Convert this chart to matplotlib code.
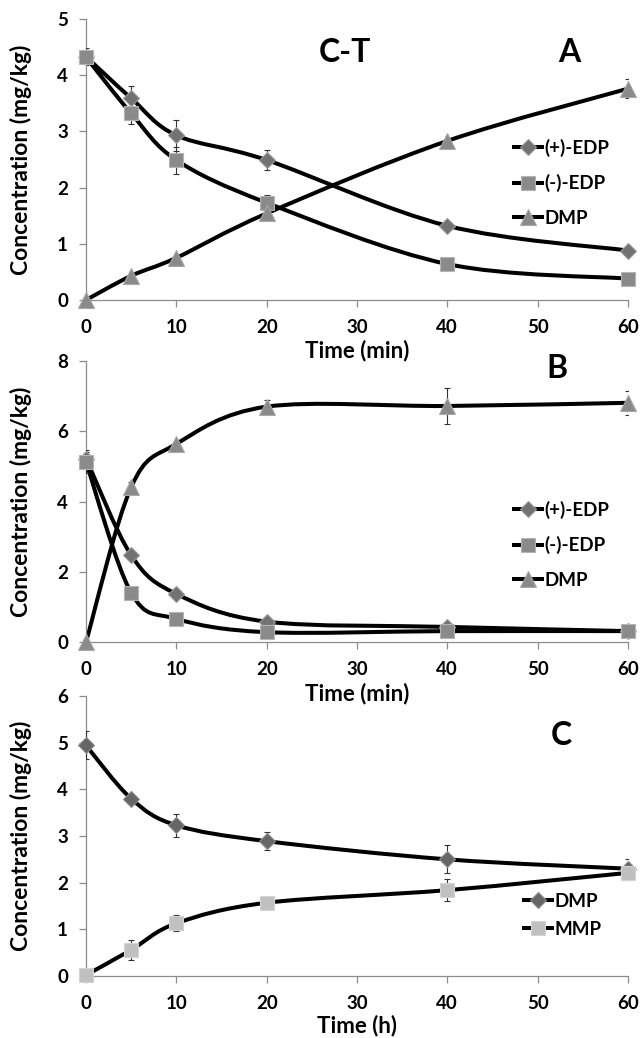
import numpy as np
import matplotlib
matplotlib.use("Agg")
import matplotlib.pyplot as plt
from matplotlib.path import Path
from matplotlib.patches import PathPatch
from matplotlib.lines import Line2D

plt.rcParams['font.family'] = ['Lato', 'DejaVu Sans']
plt.rcParams['font.weight'] = 'bold'

# sampling times
time = [0, 5, 10, 20, 40, 60]

# panel A (C-T, minutes)
a_plus = [4.33, 3.59, 2.93, 2.49, 1.32, 0.88]
a_plus_err = [0.15, 0.22, 0.28, 0.18, 0.05, 0.04]
a_minus = [4.32, 3.32, 2.49, 1.73, 0.64, 0.38]
a_minus_err = [0.12, 0.18, 0.24, 0.14, 0.04, 0.03]
a_dmp = [0.0, 0.43, 0.75, 1.54, 2.83, 3.76]
a_dmp_err = [0.0, 0.03, 0.03, 0.04, 0.04, 0.17]

# panel B (minutes)
b_plus = [5.22, 2.47, 1.37, 0.58, 0.43, 0.31]
b_plus_err = [0.26, 0.05, 0.05, 0.04, 0.04, 0.03]
b_minus = [5.12, 1.40, 0.66, 0.28, 0.31, 0.31]
b_minus_err = [0.30, 0.06, 0.05, 0.03, 0.04, 0.03]
b_dmp = [0.0, 4.41, 5.64, 6.70, 6.72, 6.81]
b_dmp_err = [0.0, 0.14, 0.06, 0.18, 0.52, 0.34]

# panel C (hours)
c_dmp = [4.94, 3.80, 3.23, 2.89, 2.50, 2.30]
c_dmp_err = [0.30, 0.05, 0.25, 0.20, 0.30, 0.20]
c_mmp = [0.02, 0.56, 1.13, 1.57, 1.84, 2.21]
c_mmp_err = [0.02, 0.21, 0.17, 0.05, 0.23, 0.15]

DIAMOND = dict(marker='D', ms=8.5, mfc='#727272', mec='#9a9a9a', mew=0.8)
SQUARE = dict(marker='s', ms=10, mfc='#8a8a8a', mec='#b4b4b4', mew=0.8)
TRIANGLE = dict(marker='^', ms=11, mfc='#8a8a8a', mec='#a8a8a8', mew=0.8)
DIAMOND_C = dict(marker='D', ms=8.5, mfc='#666666', mec='#8c8c8c', mew=0.8)
SQUARE_C = dict(marker='s', ms=10, mfc='#c0c0c0', mec='#d4d4d4', mew=0.8)

FS_TICK = 13.5
FS_LABEL = 16
FS_PANEL = 23


def smooth_path(x, y):
    # Excel style smoothed line: Catmull-Rom segments as cubic Bezier curves
    x = np.asarray(x, float)
    y = np.asarray(y, float)
    n = len(x)
    verts = [(x[0], y[0])]
    codes = [Path.MOVETO]
    for i in range(n - 1):
        i0 = max(i - 1, 0)
        i3 = min(i + 2, n - 1)
        c1 = (x[i] + (x[i + 1] - x[i0]) / 6, y[i] + (y[i + 1] - y[i0]) / 6)
        c2 = (x[i + 1] - (x[i3] - x[i]) / 6, y[i + 1] - (y[i3] - y[i]) / 6)
        verts += [c1, c2, (x[i + 1], y[i + 1])]
        codes += [Path.CURVE4] * 3
    return Path(verts, codes)


def draw_series(ax, y, err, style):
    ax.add_patch(PathPatch(smooth_path(time, y), fc='none', ec='black',
                           lw=2.9, zorder=2, capstyle='round'))
    ax.errorbar(time, y, yerr=err, fmt='none', ecolor='#333333',
                elinewidth=0.8, capsize=2.5, capthick=0.8, zorder=3)
    ax.plot(time, y, ls='none', zorder=4, clip_on=False, **style)
    return Line2D([], [], color='black', lw=2.9, **style)


def style_axes(ax, ymax, ystep, xlabel, xlabel_y):
    ax.set_facecolor('none')
    ax.set_xlim(0, 60)
    ax.set_ylim(0, ymax)
    ax.set_xticks([0, 10, 20, 30, 40, 50, 60])
    ax.set_yticks(np.arange(0, ymax + 0.01, ystep))
    for s in ['top', 'right']:
        ax.spines[s].set_visible(False)
    for s in ['left', 'bottom']:
        ax.spines[s].set_color('#8c8c8c')
        ax.spines[s].set_linewidth(0.9)
    ax.tick_params(axis='x', direction='out', length=5, width=0.9,
                   color='#8c8c8c', pad=9, labelsize=FS_TICK)
    ax.tick_params(axis='y', direction='out', length=5, width=0.9,
                   color='#8c8c8c', pad=8, labelsize=FS_TICK)
    for lab in ax.get_xticklabels() + ax.get_yticklabels():
        lab.set_fontweight('bold')
    ax.set_ylabel('Concentration (mg/kg)', fontsize=FS_LABEL + 0.5, fontweight='bold')
    ax.yaxis.set_label_coords(-0.100, 0.5)
    ax.set_xlabel(xlabel, fontsize=FS_LABEL, fontweight='bold')
    ax.xaxis.set_label_coords(0.5, xlabel_y)


fig = plt.figure(figsize=(6.42, 10.38), dpi=100)
left, width = 0.134, 0.844
ax_a = fig.add_axes([left, 0.711, width, 0.2707])
ax_b = fig.add_axes([left, 0.3815, width, 0.2707])
ax_c = fig.add_axes([left, 0.0597, width, 0.2698])

leg_kw = dict(frameon=False, loc='upper left', handlelength=1.5,
              handletextpad=0.1, borderaxespad=0, numpoints=1,
              prop={'weight': 'bold', 'size': FS_TICK})

# A
h1 = draw_series(ax_a, a_plus, a_plus_err, DIAMOND)
h2 = draw_series(ax_a, a_minus, a_minus_err, SQUARE)
h3 = draw_series(ax_a, a_dmp, a_dmp_err, TRIANGLE)
style_axes(ax_a, 5, 1, 'Time (min)', -0.142)
ax_a.text(28.7, 4.4, 'C-T', fontsize=FS_PANEL, fontweight='bold', ha='center', va='center')
ax_a.text(53.5, 4.4, 'A', fontsize=FS_PANEL, fontweight='bold', ha='center', va='center')
ax_a.legend([h1, h2, h3], ['(+)-EDP', '(-)-EDP', 'DMP'],
            bbox_to_anchor=(0.776, 0.601), labelspacing=0.94, **leg_kw)

# B
h1 = draw_series(ax_b, b_plus, b_plus_err, DIAMOND)
h2 = draw_series(ax_b, b_minus, b_minus_err, SQUARE)
h3 = draw_series(ax_b, b_dmp, b_dmp_err, TRIANGLE)
style_axes(ax_b, 8, 2, 'Time (min)', -0.146)
ax_b.text(52.2, 7.78, 'B', fontsize=FS_PANEL, fontweight='bold', ha='center', va='center')
ax_b.legend([h1, h2, h3], ['(+)-EDP', '(-)-EDP', 'DMP'],
            bbox_to_anchor=(0.776, 0.53), labelspacing=0.94, **leg_kw)

# C
h1 = draw_series(ax_c, c_dmp, c_dmp_err, DIAMOND_C)
h2 = draw_series(ax_c, c_mmp, c_mmp_err, SQUARE_C)
style_axes(ax_c, 6, 1, 'Time (h)', -0.139)
ax_c.text(52.6, 5.16, 'C', fontsize=FS_PANEL, fontweight='bold', ha='center', va='center')
ax_c.legend([h1, h2], ['DMP', 'MMP'],
            bbox_to_anchor=(0.795, 0.325), labelspacing=0.6, **leg_kw)

fig.savefig('out.png', dpi=100)
